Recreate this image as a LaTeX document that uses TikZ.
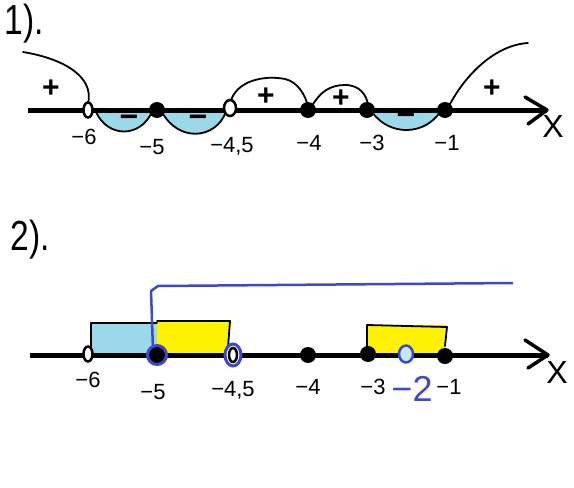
\documentclass[tikz,border=0pt]{standalone}
\usepackage{fontspec}
\setmainfont{Liberation Sans}
\usetikzlibrary{shapes.geometric}
\definecolor{pblue}{RGB}{153,217,234}
\definecolor{pyellow}{RGB}{255,242,0}
\definecolor{pind}{RGB}{63,72,204}
\begin{document}
\begin{tikzpicture}[x=1pt,y=-1pt,
  axisline/.style={line width=5pt},
  curve/.style={line width=1.8pt, line cap=round, line join=round},
  fdot/.style={circle, fill=black, inner sep=0pt, minimum size=16pt},
  odot/.style={ellipse, draw=black, fill=white, line width=2.5pt, inner sep=0pt, minimum width=9pt, minimum height=15pt},
  lab/.style={font=\fontsize{22}{22}\selectfont, inner sep=0pt},
  bigx/.style={font=\fontsize{32}{32}\selectfont, inner sep=0pt},
  title/.style={font=\fontsize{42}{42}\selectfont, inner sep=0pt, xscale=0.8},
  sgn/.style={font=\fontsize{32}{32}\selectfont\bfseries, inner sep=0pt},
  psgn/.style={font=\fontsize{30}{30}\selectfont\bfseries, inner sep=0pt},
  ring/.style={draw=pind, line width=3pt},
  lobe/.style={fill=pblue, draw=black, line width=1.8pt}
]
\useasboundingbox (0,0) rectangle (574,488);
% ---------- part 1 ----------
\node[title] (t1) at (24,24) {1).};
% lobes (below axis)
\draw[lobe] (96,112) .. controls (108,138) and (140,138) .. (152,112) -- cycle;
\draw[lobe] (162,112) .. controls (178,142) and (215,140) .. (226,112) -- cycle;
\draw[lobe] (372,112) .. controls (390,137) and (425,135) .. (440,112) -- cycle;
\node[sgn] (m1) at (129,121) {−};
\node[sgn] (m2) at (198,121) {−};
\node[sgn] (m3) at (406,119) {−};
% axis 1
\coordinate (A1s) at (28,110);
\coordinate (A1e) at (547,110);
\draw[axisline] (A1s) -- (A1e);
\draw[line width=3.5pt, line cap=round, line join=round] (525,97) -- (A1e) -- (528,124);
\node[bigx] (X1) at (553,126) {X};
% curves above
\draw[curve] (23,52) .. controls (60,58) and (95,75) .. (88,104);
\draw[curve] (230,104) .. controls (235,80) and (265,75) .. (285,79) .. controls (298,82) and (305,95) .. (308,106);
\draw[curve] (312,106) .. controls (320,92) and (330,85) .. (345,85) .. controls (360,85) and (366,95) .. (368,104);
\draw[curve] (449,106) .. controls (465,75) and (495,45) .. (528,43);
\node[psgn] (p1) at (51,89) {+};
\node[psgn] (p2) at (266,97) {+};
\node[psgn] (p3) at (341,99) {+};
\node[psgn] (p4) at (492,89) {+};
% points
\node[odot] (a6) at (88,110) {};
\node[fdot] (a5) at (157,110) {};
\node[odot, minimum width=12pt, minimum height=16pt] (a45) at (230,108) {};
\node[fdot] (a4) at (308,110) {};
\node[fdot] (a3) at (367,110) {};
\node[fdot] (a1) at (445,110) {};
% labels
\node[lab] (l6) at (84,137) {−6};
\node[lab] (l5) at (152,147) {−5};
\node[lab] (l45) at (232,146) {−4,5};
\node[lab] (l4) at (309,143) {−4};
\node[lab] (l3) at (372,143) {−3};
\node[lab] (l1) at (447,143) {−1};
% ---------- part 2 ----------
\node[title] (t2) at (30,240) {2).};
% rectangles
\fill[pblue] (91,323) rectangle (157,353);
\fill[pyellow] (157,321) -- (230,321) -- (228,353) -- (157,353) -- cycle;
\fill[pyellow] (367,325) -- (447,325) -- (445,353) -- (367,353) -- cycle;
\draw[curve] (91,353) -- (91,323) -- (157,323);
\draw[curve] (157,321) -- (230,321) -- (228,348);
\draw[curve] (367,348) -- (367,325) -- (447,327) -- (445,346);
% blue line
\coordinate (B0) at (153,350);
\coordinate (B1) at (151,291);
\coordinate (B2) at (158,286);
\coordinate (B3) at (513,283);
\draw[draw=pind, line width=2.5pt, line join=round] (B0) -- (B1) -- (B2) -- (B3);
% axis 2
\coordinate (A2s) at (30,355);
\coordinate (A2e) at (548,355);
\draw[axisline] (A2s) -- (A2e);
\draw[line width=3.5pt, line cap=round, line join=round] (525,340) -- (A2e) -- (528,368);
\node[bigx] (X2) at (557,372) {X};
% points
\node[odot] (b6) at (88,354) {};
\node[fdot, ring, minimum size=19pt] (b5) at (157,355) {};
\node[odot, ring, minimum width=16pt, minimum height=22pt] (b45ring) at (233,355) {};
\node[odot, minimum width=8pt, minimum height=14pt] (b45) at (233,355) {};
\node[fdot] (b4) at (308,355) {};
\node[fdot] (b3) at (368,354) {};
\node[fdot] (b1) at (445,356) {};
\node[ellipse, draw=pind, fill=pblue!60, line width=2.5pt, inner sep=0pt, minimum width=14pt, minimum height=17pt] (b2) at (406,354) {};
% labels
\node[lab] (m6) at (88,380) {−6};
\node[lab] (m5) at (153,392) {−5};
\node[lab] (m45) at (233,390) {−4,5};
\node[lab] (m4) at (308,387) {−4};
\node[lab] (m3) at (373,387) {−3};
\node[lab, text=pind, font=\fontsize{36}{36}\selectfont] (m2) at (412,389) {−2};
\node[lab] (m1) at (449,387) {−1};
\end{tikzpicture}
\end{document}
